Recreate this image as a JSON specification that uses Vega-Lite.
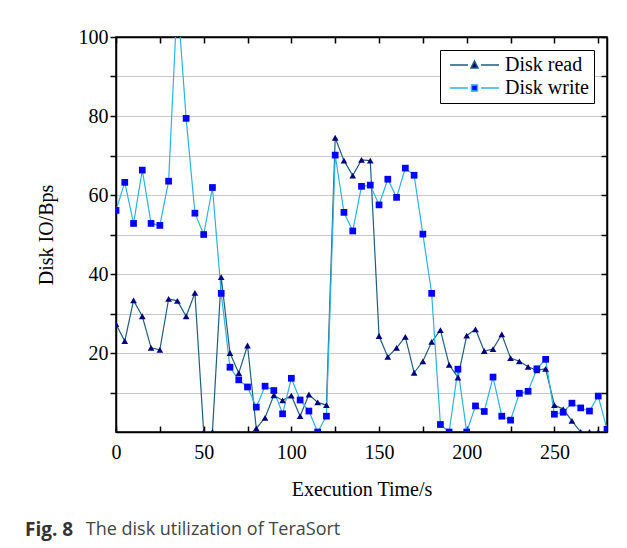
{
  "$schema": "https://vega.github.io/schema/vega-lite/v6.json",
  "width": 491,
  "height": 395,
  "autosize": "none",
  "padding": {"left": 116, "top": 37, "right": 20, "bottom": 116},
  "background": "white",
  "config": {
    "font": "Liberation Serif",
    "view": {"stroke": "black", "strokeWidth": 1.5}
  },
  "resolve": {"axis": {"x": "independent", "y": "independent"}},
  "title": {
    "text": "Fig. 8",
    "subtitle": "\u200b\u00a0\u00a0\u00a0\u00a0\u00a0\u00a0\u00a0\u00a0\u00a0\u00a0\u00a0\u00a0\u00a0The disk utilization of TeraSort",
    "orient": "bottom",
    "anchor": "start",
    "frame": "group",
    "dx": -91,
    "offset": 22,
    "font": "Open Sans",
    "fontSize": 19,
    "fontWeight": "bold",
    "color": "#333333",
    "subtitleFont": "Open Sans",
    "subtitleFontSize": 18,
    "subtitleFontWeight": "normal",
    "subtitleColor": "#444444",
    "subtitlePadding": -19
  },
  "data": {
    "values": [
      {"t": 0, "series": "Disk read", "v": 27.3},
      {"t": 5, "series": "Disk read", "v": 23},
      {"t": 10, "series": "Disk read", "v": 33.3},
      {"t": 15, "series": "Disk read", "v": 29.3},
      {"t": 20, "series": "Disk read", "v": 21.3},
      {"t": 25, "series": "Disk read", "v": 20.8},
      {"t": 30, "series": "Disk read", "v": 33.7},
      {"t": 35, "series": "Disk read", "v": 33.2},
      {"t": 40, "series": "Disk read", "v": 29.3},
      {"t": 45, "series": "Disk read", "v": 35.2},
      {"t": 50, "series": "Disk read", "v": 0},
      {"t": 55, "series": "Disk read", "v": 0},
      {"t": 60, "series": "Disk read", "v": 39.2},
      {"t": 65, "series": "Disk read", "v": 20},
      {"t": 70, "series": "Disk read", "v": 14.9},
      {"t": 75, "series": "Disk read", "v": 21.9},
      {"t": 80, "series": "Disk read", "v": 0.9},
      {"t": 85, "series": "Disk read", "v": 3.6},
      {"t": 90, "series": "Disk read", "v": 9.3},
      {"t": 95, "series": "Disk read", "v": 8},
      {"t": 100, "series": "Disk read", "v": 9.2},
      {"t": 105, "series": "Disk read", "v": 4},
      {"t": 110, "series": "Disk read", "v": 9.5},
      {"t": 115, "series": "Disk read", "v": 7.5},
      {"t": 120, "series": "Disk read", "v": 6.8},
      {"t": 125, "series": "Disk read", "v": 74.5},
      {"t": 130, "series": "Disk read", "v": 68.7},
      {"t": 135, "series": "Disk read", "v": 64.9},
      {"t": 140, "series": "Disk read", "v": 68.9},
      {"t": 145, "series": "Disk read", "v": 68.7},
      {"t": 150, "series": "Disk read", "v": 24.3},
      {"t": 155, "series": "Disk read", "v": 19},
      {"t": 160, "series": "Disk read", "v": 21.3},
      {"t": 165, "series": "Disk read", "v": 24.1},
      {"t": 170, "series": "Disk read", "v": 15},
      {"t": 175, "series": "Disk read", "v": 17.9},
      {"t": 180, "series": "Disk read", "v": 22.8},
      {"t": 185, "series": "Disk read", "v": 25.8},
      {"t": 190, "series": "Disk read", "v": 17},
      {"t": 195, "series": "Disk read", "v": 13.8},
      {"t": 200, "series": "Disk read", "v": 24.4},
      {"t": 205, "series": "Disk read", "v": 26},
      {"t": 210, "series": "Disk read", "v": 20.5},
      {"t": 215, "series": "Disk read", "v": 21},
      {"t": 220, "series": "Disk read", "v": 24.7},
      {"t": 225, "series": "Disk read", "v": 18.7},
      {"t": 230, "series": "Disk read", "v": 17.9},
      {"t": 235, "series": "Disk read", "v": 16.5},
      {"t": 240, "series": "Disk read", "v": 15.6},
      {"t": 245, "series": "Disk read", "v": 16},
      {"t": 250, "series": "Disk read", "v": 6.8},
      {"t": 255, "series": "Disk read", "v": 5.8},
      {"t": 260, "series": "Disk read", "v": 2.8},
      {"t": 265, "series": "Disk read", "v": 0},
      {"t": 270, "series": "Disk read", "v": 0},
      {"t": 275, "series": "Disk read", "v": 0},
      {"t": 280, "series": "Disk read", "v": 0},
      {"t": 0, "series": "Disk write", "v": 56.1},
      {"t": 5, "series": "Disk write", "v": 63.2},
      {"t": 10, "series": "Disk write", "v": 52.8},
      {"t": 15, "series": "Disk write", "v": 66.3},
      {"t": 20, "series": "Disk write", "v": 52.8},
      {"t": 25, "series": "Disk write", "v": 52.3},
      {"t": 30, "series": "Disk write", "v": 63.5},
      {"t": 35, "series": "Disk write", "v": 110},
      {"t": 40, "series": "Disk write", "v": 79.4},
      {"t": 45, "series": "Disk write", "v": 55.4},
      {"t": 50, "series": "Disk write", "v": 50},
      {"t": 55, "series": "Disk write", "v": 61.9},
      {"t": 60, "series": "Disk write", "v": 35.1},
      {"t": 65, "series": "Disk write", "v": 16.4},
      {"t": 70, "series": "Disk write", "v": 13.2},
      {"t": 75, "series": "Disk write", "v": 11.4},
      {"t": 80, "series": "Disk write", "v": 6.3},
      {"t": 85, "series": "Disk write", "v": 11.6},
      {"t": 90, "series": "Disk write", "v": 10.5},
      {"t": 95, "series": "Disk write", "v": 4.6},
      {"t": 100, "series": "Disk write", "v": 13.6},
      {"t": 105, "series": "Disk write", "v": 8.1},
      {"t": 110, "series": "Disk write", "v": 5.3},
      {"t": 115, "series": "Disk write", "v": 0},
      {"t": 120, "series": "Disk write", "v": 4},
      {"t": 125, "series": "Disk write", "v": 70.1},
      {"t": 130, "series": "Disk write", "v": 55.6},
      {"t": 135, "series": "Disk write", "v": 50.9},
      {"t": 140, "series": "Disk write", "v": 62.2},
      {"t": 145, "series": "Disk write", "v": 62.5},
      {"t": 150, "series": "Disk write", "v": 57.5},
      {"t": 155, "series": "Disk write", "v": 64},
      {"t": 160, "series": "Disk write", "v": 59.4},
      {"t": 165, "series": "Disk write", "v": 66.8},
      {"t": 170, "series": "Disk write", "v": 65},
      {"t": 175, "series": "Disk write", "v": 50.1},
      {"t": 180, "series": "Disk write", "v": 35.1},
      {"t": 185, "series": "Disk write", "v": 1.9},
      {"t": 190, "series": "Disk write", "v": 0},
      {"t": 195, "series": "Disk write", "v": 15.9},
      {"t": 200, "series": "Disk write", "v": 0},
      {"t": 205, "series": "Disk write", "v": 6.6},
      {"t": 210, "series": "Disk write", "v": 5.2},
      {"t": 215, "series": "Disk write", "v": 13.9},
      {"t": 220, "series": "Disk write", "v": 4},
      {"t": 225, "series": "Disk write", "v": 3},
      {"t": 230, "series": "Disk write", "v": 9.8},
      {"t": 235, "series": "Disk write", "v": 10.3},
      {"t": 240, "series": "Disk write", "v": 16},
      {"t": 245, "series": "Disk write", "v": 18.4},
      {"t": 250, "series": "Disk write", "v": 4.5},
      {"t": 255, "series": "Disk write", "v": 5},
      {"t": 260, "series": "Disk write", "v": 7.3},
      {"t": 265, "series": "Disk write", "v": 6.1},
      {"t": 270, "series": "Disk write", "v": 5.3},
      {"t": 275, "series": "Disk write", "v": 9.1},
      {"t": 280, "series": "Disk write", "v": 0.7}
    ]
  },
  "encoding": {
    "x": {
      "field": "t",
      "type": "quantitative",
      "scale": {"domain": [0, 280], "nice": false, "zero": false},
      "axis": null
    },
    "y": {
      "field": "v",
      "type": "quantitative",
      "scale": {"domain": [0, 100], "nice": false},
      "axis": null
    }
  },
  "layer": [
    {
      "transform": [{"filter": "datum.series == 'Disk read'"}],
      "mark": {"type": "line", "color": "#1d5f7d", "strokeWidth": 1.2, "clip": true},
      "encoding": {
        "x": {
          "field": "t",
          "type": "quantitative",
          "axis": {
            "title": "Execution Time/s",
            "titleFontSize": 20,
            "titleFontWeight": "normal",
            "titleColor": "black",
            "titlePadding": 17,
            "values": [0, 25, 50, 75, 100, 125, 150, 175, 200, 225, 250, 275],
            "labelExpr": "datum.value % 50 == 0 ? datum.label : ''",
            "labelFlush": false,
            "labelFontSize": 20,
            "labelColor": "black",
            "labelPadding": 16,
            "tickSize": -6,
            "tickColor": "black",
            "tickWidth": 1.5,
            "domainColor": "black",
            "domainWidth": 1.5,
            "grid": false
          }
        },
        "y": {
          "field": "v",
          "type": "quantitative",
          "axis": {
            "title": "Disk IO/Bps",
            "titleFontSize": 20,
            "titleFontWeight": "normal",
            "titleColor": "black",
            "titlePadding": 22,
            "values": [10, 20, 30, 40, 50, 60, 70, 80, 90, 100],
            "labelExpr": "datum.value % 20 == 0 ? datum.label : ''",
            "labelFlush": false,
            "labelFontSize": 20,
            "labelColor": "black",
            "labelPadding": 2,
            "tickSize": 6,
            "tickColor": "black",
            "tickWidth": 1.5,
            "domainColor": "black",
            "domainWidth": 1.5,
            "grid": true,
            "gridColor": "#c8c8c8",
            "gridWidth": 1.2
          }
        }
      }
    },
    {
      "transform": [{"filter": "datum.series == 'Disk write'"}],
      "mark": {"type": "line", "color": "#2bb3e3", "strokeWidth": 1.2, "clip": true},
      "encoding": {}
    },
    {
      "transform": [{"filter": "datum.series == 'Disk read'"}],
      "mark": {"type": "point", "shape": "triangle-up", "filled": true, "color": "#000080", "opacity": 1, "size": 45, "clip": true},
      "encoding": {}
    },
    {
      "transform": [{"filter": "datum.series == 'Disk write'"}],
      "mark": {"type": "point", "shape": "square", "filled": true, "color": "#0000ff", "opacity": 1, "size": 45, "clip": true},
      "encoding": {}
    },
    {
      "mark": {"type": "point", "opacity": 0, "strokeWidth": 1.5},
      "encoding": {
        "x": {
          "field": "t",
          "type": "quantitative",
          "axis": {
            "orient": "top",
            "title": null,
            "labels": false,
            "values": [0, 25, 50, 75, 100, 125, 150, 175, 200, 225, 250, 275],
            "tickSize": -6,
            "tickColor": "black",
            "tickWidth": 1.5,
            "domainColor": "black",
            "domainWidth": 1.5,
            "grid": false
          }
        },
        "y": {
          "field": "v",
          "type": "quantitative",
          "axis": {
            "orient": "right",
            "title": null,
            "labels": false,
            "values": [10, 20, 30, 40, 50, 60, 70, 80, 90, 100],
            "tickSize": -6,
            "tickColor": "black",
            "tickWidth": 1.5,
            "domainColor": "black",
            "domainWidth": 1.5,
            "grid": false
          }
        },
        "shape": {
          "field": "series",
          "type": "nominal",
          "scale": {
            "domain": ["Disk read", "Disk write"],
            "range": [
              "M-1,0H2.6M5.2,0H8.8M3.9,-0.8L4.6,0.6L3.2,0.6Z",
              "M-1,0H2.6M5.2,0H8.8M3.3,-0.6H4.5V0.6H3.3Z"
            ]
          },
          "legend": {
            "title": null,
            "orient": "top-right",
            "offset": 13,
            "strokeColor": "black",
            "fillColor": "white",
            "padding": 5,
            "rowPadding": 3,
            "labelFont": "Liberation Serif",
            "labelFontSize": 20,
            "labelColor": "black",
            "labelOffset": 40,
            "symbolSize": 100,
            "symbolOpacity": 1,
            "symbolStrokeWidth": 1.5
          }
        },
        "fill": {
          "field": "series",
          "type": "nominal",
          "scale": {"domain": ["Disk read", "Disk write"], "range": ["#000080", "#0000ff"]},
          "legend": {
            "title": null,
            "orient": "top-right",
            "offset": 13,
            "strokeColor": "black",
            "fillColor": "white",
            "padding": 5,
            "rowPadding": 3,
            "labelFont": "Liberation Serif",
            "labelFontSize": 20,
            "labelColor": "black",
            "labelOffset": 40,
            "symbolSize": 100,
            "symbolOpacity": 1,
            "symbolStrokeWidth": 1.5
          }
        },
        "stroke": {
          "field": "series",
          "type": "nominal",
          "scale": {"domain": ["Disk read", "Disk write"], "range": ["#1d5f7d", "#2bb3e3"]},
          "legend": {
            "title": null,
            "orient": "top-right",
            "offset": 13,
            "strokeColor": "black",
            "fillColor": "white",
            "padding": 5,
            "rowPadding": 3,
            "labelFont": "Liberation Serif",
            "labelFontSize": 20,
            "labelColor": "black",
            "labelOffset": 40,
            "symbolSize": 100,
            "symbolOpacity": 1,
            "symbolStrokeWidth": 1.5
          }
        }
      }
    }
  ]
}
